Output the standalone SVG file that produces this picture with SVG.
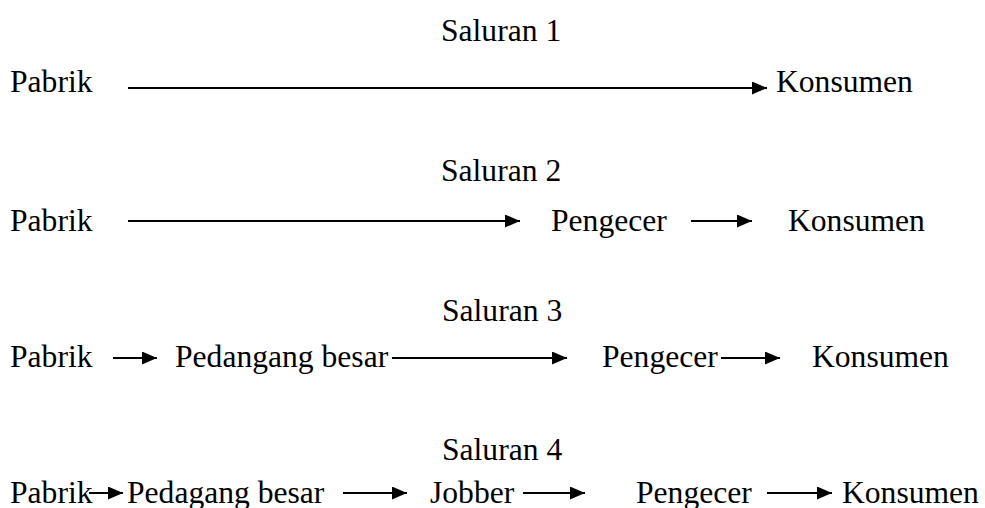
<svg xmlns="http://www.w3.org/2000/svg" width="985" height="508" viewBox="0 0 985 508">
<style>
text { font-family: "Liberation Serif", "Times New Roman", serif; font-size: 31.6px; fill: #000; }
.c { stroke: #000; stroke-width: 2; fill: none; marker-end: url(#ah); }
</style>
<defs>
<marker id="ah" viewBox="0 0 15 13" refX="15" refY="6.5" markerWidth="15" markerHeight="13" markerUnits="userSpaceOnUse" orient="auto">
<path d="M0,0 L15,6.5 L0,13 z" fill="#000"/>
</marker>
</defs>
<rect width="985" height="508" fill="#fff"/>
<g id="titles">
<g id="t1"><text x="441" y="41">Saluran 1</text></g>
<g id="t2"><text x="441" y="181">Saluran 2</text></g>
<g id="t3"><text x="442" y="321">Saluran 3</text></g>
<g id="t4"><text x="442" y="460">Saluran 4</text></g>
</g>
<g id="row1">
<g id="r1-pabrik"><text x="10" y="92">Pabrik</text></g>
<g id="r1-konsumen"><text x="776" y="92">Konsumen</text></g>
</g>
<g id="row2">
<g id="r2-pabrik"><text x="10" y="231">Pabrik</text></g>
<g id="r2-pengecer"><text x="551" y="231">Pengecer</text></g>
<g id="r2-konsumen"><text x="788" y="231">Konsumen</text></g>
</g>
<g id="row3">
<g id="r3-pabrik"><text x="10" y="367">Pabrik</text></g>
<g id="r3-pedangang"><text x="175" y="367">Pedangang besar</text></g>
<g id="r3-pengecer"><text x="602" y="367">Pengecer</text></g>
<g id="r3-konsumen"><text x="812" y="367">Konsumen</text></g>
</g>
<g id="row4">
<g id="r4-pabrik"><text x="10" y="503">Pabrik</text></g>
<g id="r4-pedagang"><text x="127" y="503">Pedagang besar</text></g>
<g id="r4-jobber"><text x="430" y="503">Jobber</text></g>
<g id="r4-pengecer"><text x="636" y="503">Pengecer</text></g>
<g id="r4-konsumen"><text x="842" y="503">Konsumen</text></g>
</g>
<g id="connectors">
<line class="c" x1="128" y1="88" x2="767" y2="88"/>
<line class="c" x1="128" y1="221" x2="520" y2="221"/>
<line class="c" x1="691" y1="221" x2="752" y2="221"/>
<line class="c" x1="113" y1="358" x2="157" y2="358"/>
<line class="c" x1="392" y1="358" x2="567" y2="358"/>
<line class="c" x1="721" y1="358" x2="780" y2="358"/>
<line class="c" x1="89" y1="493" x2="123" y2="493"/>
<line class="c" x1="343" y1="493" x2="407" y2="493"/>
<line class="c" x1="523" y1="493" x2="585" y2="493"/>
<line class="c" x1="767" y1="493" x2="832" y2="493"/>
</g>
</svg>
